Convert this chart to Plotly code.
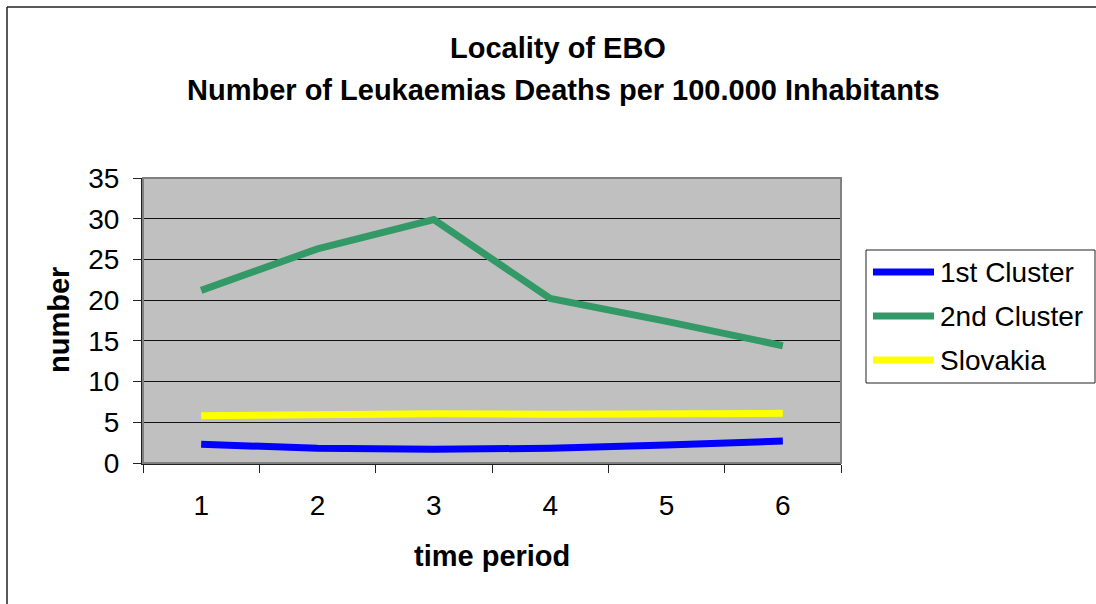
import plotly.graph_objects as go

periods = ["1", "2", "3", "4", "5", "6"]
first_cluster = [2.3, 1.8, 1.7, 1.8, 2.2, 2.7]
second_cluster = [21.2, 26.3, 29.9, 20.2, 17.4, 14.4]
slovakia = [5.8, 6.0, 6.05, 6.0, 6.1, 6.1]

series_names = ["1st Cluster", "2nd Cluster", "Slovakia"]
series_colors = ["#0000FF", "#339966", "#FFFF00"]

W, H = 1096, 604
L, R, T, B = 143, 841, 178, 463


def px(x):
    return (x - L) / (R - L)


def py(y):
    return (B - y) / (B - T)


FONT = "Liberation Sans, Arial, sans-serif"


def label(text, x, y, size, angle=0, xanchor="center"):
    return dict(text=text, x=px(x), y=py(y), xref="paper", yref="paper",
                xanchor=xanchor, yanchor="middle", textangle=angle, showarrow=False,
                font=dict(size=size, family=FONT, color="black"))


fig = go.Figure()

for name, vals, col in zip(series_names, [first_cluster, second_cluster, slovakia], series_colors):
    fig.add_trace(
        go.Scatter(
            x=periods,
            y=vals,
            mode="lines",
            name=name,
            line=dict(color=col, width=7),
            showlegend=False,
        )
    )

shapes = [
    # plot area border
    dict(type="rect", xref="paper", yref="paper", x0=0, x1=1, y0=0, y1=1,
         line=dict(color="#808080", width=2), layer="above"),
    # outer chart border (left and top visible)
    dict(type="line", xref="paper", yref="paper", x0=px(7), x1=px(7), y0=py(7), y1=py(700),
         line=dict(color="#222222", width=1.5)),
    dict(type="line", xref="paper", yref="paper", x0=px(7), x1=px(1200), y0=py(7), y1=py(7),
         line=dict(color="#222222", width=1.5)),
    # legend box
    dict(type="rect", xref="paper", yref="paper", x0=px(866), x1=px(1095), y0=py(383), y1=py(250),
         line=dict(color="#222222", width=1), fillcolor="white"),
]

annotations = [
    label("<b>Locality of EBO</b>", 558, 48, 29),
    label("<b>Number of Leukaemias Deaths per 100.000 Inhabitants</b>", 563, 90, 29),
    label("<b>time period</b>", 492, 556, 29),
    label("<b>number</b>", 59, 320, 29, angle=-90),
]

for i, (name, col) in enumerate(zip(series_names, series_colors)):
    yy = 272 + 44 * i
    shapes.append(dict(type="line", xref="paper", yref="paper", x0=px(873), x1=px(934),
                       y0=py(yy), y1=py(yy), line=dict(color=col, width=7)))
    annotations.append(label(name, 938, yy, 28, xanchor="left"))

fig.update_layout(
    width=W,
    height=H,
    margin=dict(l=L, r=W - R, t=T, b=H - B),
    paper_bgcolor="white",
    plot_bgcolor="#C0C0C0",
    font=dict(family=FONT, size=28, color="black"),
    shapes=shapes,
    annotations=annotations,
    xaxis=dict(
        type="category",
        range=[-0.5, 5.5],
        tickson="boundaries",
        ticks="outside",
        ticklen=8,
        tickcolor="#222222",
        showgrid=False,
        showline=True,
        linecolor="#222222",
        linewidth=2,
        ticklabelstandoff=16,
        zeroline=False,
    ),
    yaxis=dict(
        range=[0, 35],
        dtick=5,
        ticks="outside",
        ticklen=8,
        tickcolor="#222222",
        showgrid=True,
        gridcolor="#111111",
        gridwidth=1,
        showline=True,
        linecolor="#222222",
        linewidth=2,
        ticklabelstandoff=8,
        zeroline=False,
    ),
)

fig.write_html(
    "out.html",
    config={"displayModeBar": False},
    post_script="document.body.style.margin='0';",
)
